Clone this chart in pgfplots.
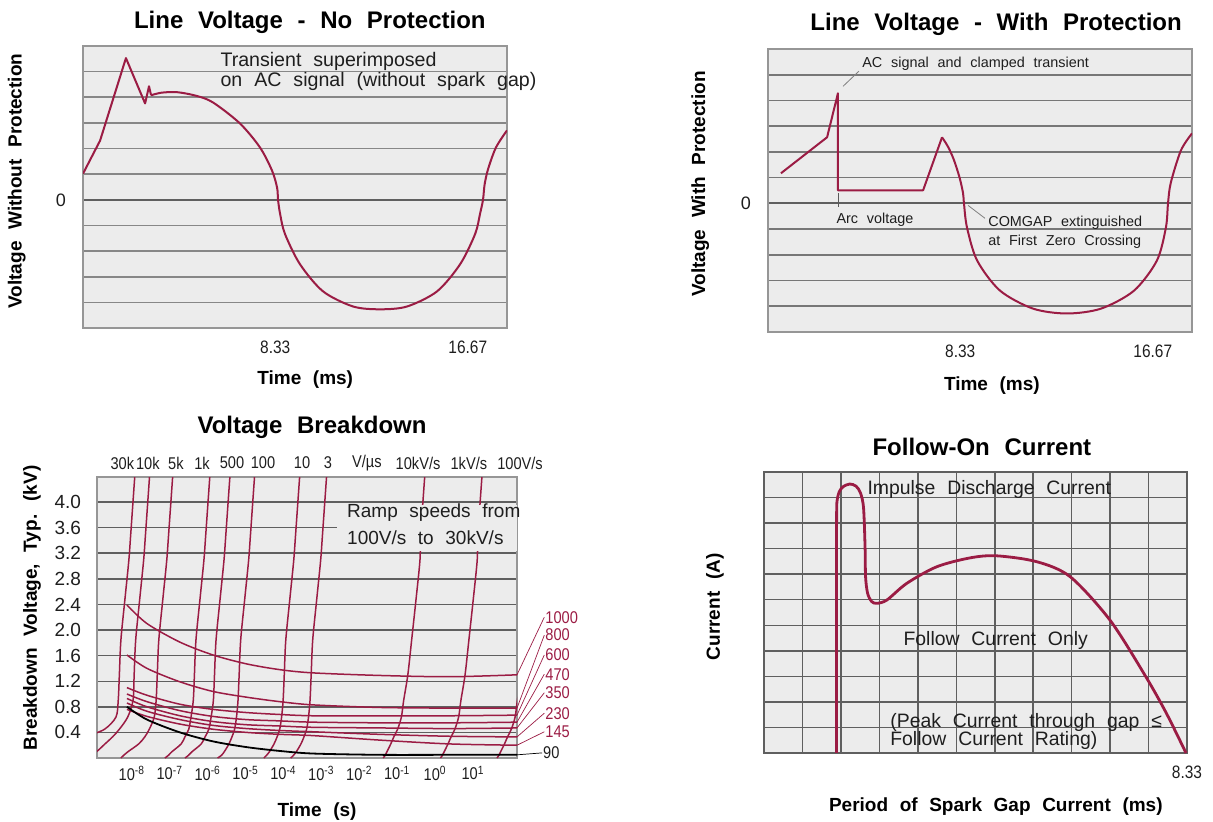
\documentclass[border=0pt]{standalone}
\usepackage{fontspec}
\setmainfont[WordSpace=2.2]{Liberation Sans}
\newfontfamily\narrow[FakeStretch=0.86]{Liberation Sans}
\usepackage{pgfplots}
\usepackage{pgfplotstable}
\pgfplotsset{compat=1.18}

\definecolor{curve}{RGB}{155,28,68}
\definecolor{bgc}{RGB}{236,236,236}
\definecolor{gridc}{RGB}{95,95,95}
\definecolor{gridl}{RGB}{135,135,135}
\definecolor{boxc}{RGB}{150,150,150}
\definecolor{txt}{RGB}{30,30,30}

% ramp-speed curves: x = log10(t/s) for each breakdown voltage V (kV)
\pgfplotstableread{
V    a30k  a10k  a5k   a1k   a500  a100  a10   a3    a10kV a1kV  a100V
4.6  -7.90 -7.51 -6.90 -5.92 -5.39 -4.74 -3.55 -2.84 -0.25  1.26 2.75
3.5  -8.03 -7.64 -7.03 -6.05 -5.52 -4.87 -3.68 -2.97 -0.38  1.13 2.62
3.09 -8.08 -7.69 -7.08 -6.10 -5.57 -4.92 -3.73 -3.02 -0.40  1.11 2.60
2.5  -8.18 -7.79 -7.18 -6.20 -5.67 -5.02 -3.83 -3.12 -0.50  1.01 2.50
1.84 -8.29 -7.90 -7.29 -6.31 -5.78 -5.13 -3.94 -3.23 -0.62  0.89 2.38
1.3  -8.33 -7.94 -7.33 -6.35 -5.82 -5.17 -3.98 -3.27 -0.72  0.79 2.28
0.9  -8.36 -7.97 -7.36 -6.38 -5.85 -5.20 -4.01 -3.30 -0.83  0.68 2.17
0.64 -8.42 -8.11 -7.41 -6.44 -5.91 -5.24 -4.05 -3.34 -0.89  0.62 2.11
0.45 -8.72 -8.33 -7.54 -6.50 -5.97 -5.29 -4.10 -3.39 -0.99  0.52 2.01
0.33 -9.20 -8.51 -7.66 -6.60 -6.07 -5.36 -4.17 -3.46 -1.09  0.42 1.91
0.22 -9.40 -8.71 -7.82 -6.70 -6.17 -5.44 -4.25 -3.54 -1.17  0.34 1.83
0.1  -9.60 -8.93 -8.10 -6.94 -6.41 -5.56 -4.37 -3.66 -1.27  0.24 1.73
0.04 -9.70 -9.10 -8.22 -7.04 -6.51 -5.64 -4.45 -3.74 -1.32  0.19 1.68
0.0  -9.80 -9.20 -8.29 -7.13 -6.60 -5.74 -4.52 -3.81 -1.37  0.14 1.63
}\ramps

% DC sparkover curves (V), x = log10(t/s)
\pgfplotstableread{
x     d1000 d800 d600 d470 d350 d230 d145 d90
-8.13 2.39  1.61 1.10 1.00 0.93 0.86 0.76 0.80
-7.60 2.10  1.40 0.98 0.88 0.80 0.73 0.65 0.60
-6.73 1.81  1.19 0.84 0.74 0.66 0.60 0.53 0.40
-5.86 1.61  1.04 0.76 0.65 0.57 0.51 0.45 0.26
-4.97 1.47  0.95 0.71 0.60 0.52 0.46 0.40 0.17
-4.09 1.38  0.88 0.68 0.58 0.50 0.43 0.37 0.11
-3.22 1.33  0.83 0.66 0.56 0.48 0.41 0.35 0.07
-1.46 1.29  0.79 0.66 0.55 0.47 0.37 0.28 0.05
0.39  1.27  0.78 0.66 0.55 0.46 0.34 0.22 0.05
2.16  1.30  0.78 0.67 0.56 0.47 0.33 0.20 0.05
}\dc

\pgfplotsset{
  panel/.style={
    scale only axis,
    axis background/.style={fill=bgc},
    axis line style={draw=boxc, line width=0.7pt},
    major tick length=0pt, minor tick length=0pt,
    tick style={draw=none},
    ticklabel style={font=\fontsize{9}{10}\selectfont, text=txt},
    title style={font=\fontsize{12}{14}\selectfont\bfseries, yshift=-6pt},
    label style={font=\fontsize{9.5}{11}\selectfont\bfseries},
    clip mode=individual,
  },
  wave/.style={curve, line width=1pt, line join=round},
  ramp/.style={curve, line width=0.75pt, smooth},
}
\tikzset{
  note/.style={text=txt, inner sep=0pt},
  top/.style={text=txt, inner sep=0pt, font=\narrow\fontsize{8.5}{10}\selectfont},
  side/.style={text=curve, inner sep=0pt, anchor=west, font=\narrow\fontsize{8.5}{10}\selectfont},
  lead/.style={draw=curve, line width=0.35pt},
}

\begin{document}
\begin{tikzpicture}
\useasboundingbox (0,0) rectangle (606.5pt,-410.5pt);

% ---------- Line Voltage - No Protection ----------
\begin{axis}[panel, at={(41.5pt,-164pt)}, anchor=south west,
  width=212pt, height=141pt,
  xmin=0, xmax=18.37, ymin=-5, ymax=6,
  xtick={8.33,16.67}, xticklabels={8.33,16.67},
  xticklabel style={font=\narrow\fontsize{9}{10}\selectfont, yshift=-3pt},
  ytick={0}, yticklabels={0}, yticklabel style={xshift=-5pt},
  minor ytick={-4,-3,-2,-1,1,2,3,4,5},
  ymajorgrids, yminorgrids,
  major grid style={draw=gridc, line width=0.9pt},
  minor grid style={draw=gridl, line width=0.8pt},
  title={Line Voltage - No Protection},
  xlabel={Time (ms)}, ylabel={Voltage Without Protection},
  title style={at={(axis description cs:0.535,1.085)}, anchor=center},
  xlabel style={at={(axis description cs:0.524,-0.184)}, anchor=center},
  ylabel style={at={(axis description cs:-0.156,0.521)}, anchor=center},
]
\addplot[wave] coordinates {(0,1.02) (0.74,2.31) (1.86,5.53) (2.69,3.76) (2.86,4.43) (2.95,4.08)};
\addplot[wave, smooth] coordinates {
  (2.95,4.08) (3.4,4.18) (4.07,4.20) (4.9,4.06) (5.63,3.80) (6.80,2.98)
  (7.67,2.04) (8.19,1.14) (8.41,0.47) (8.45,0) (8.54,-0.55) (8.75,-1.33)
  (9.40,-2.51) (10.40,-3.57) (11.70,-4.16) (12.87,-4.27) (14.04,-4.16)
  (15.34,-3.57) (16.34,-2.51) (16.99,-1.33) (17.20,-0.55) (17.33,0)
  (17.40,0.60) (17.55,1.20) (17.89,2.04) (18.37,2.71)};
\node[note, anchor=west, font=\fontsize{9.8}{11}\selectfont] at (axis cs:5.94,5.41) {Transient superimposed};
\node[note, anchor=west, font=\fontsize{9.8}{11}\selectfont] at (axis cs:5.94,4.63) {on AC signal (without spark gap)};
\end{axis}

% ---------- Line Voltage - With Protection ----------
\begin{axis}[panel, at={(384pt,-166pt)}, anchor=south west,
  width=212pt, height=141.5pt,
  xmin=0, xmax=18.37, ymin=-5, ymax=6,
  xtick={8.33,16.67}, xticklabels={8.33,16.67},
  xticklabel style={font=\narrow\fontsize{9}{10}\selectfont, yshift=-3pt},
  ytick={0}, yticklabels={0}, yticklabel style={xshift=-5pt},
  minor ytick={-4,-3,-2,-1,1,2,3,4,5},
  ymajorgrids, yminorgrids,
  major grid style={draw=gridc, line width=0.9pt},
  minor grid style={draw=gridc!85, line width=0.8pt},
  title={Line Voltage - With Protection},
  xlabel={Time (ms)}, ylabel={Voltage With Protection},
  title style={at={(axis description cs:0.538,1.088)}, anchor=center},
  xlabel style={at={(axis description cs:0.528,-0.191)}, anchor=center},
  ylabel style={at={(axis description cs:-0.160,0.523)}, anchor=center},
]
\addplot[wave] coordinates {(0.56,1.17) (2.56,2.57) (3.03,4.28) (3.03,0.51) (6.72,0.51) (7.54,2.57)};
\addplot[wave, smooth] coordinates {
  (7.54,2.57) (7.80,2.20) (8.05,1.70) (8.30,1.00) (8.45,0.40) (8.49,0)
  (8.62,-0.93) (9.06,-2.22) (10.05,-3.39) (11.48,-4.09) (12.95,-4.28)
  (14.43,-4.09) (15.86,-3.39) (16.85,-2.22) (17.24,-0.93) (17.33,0)
  (17.45,0.80) (17.89,2.06) (18.37,2.72)};
\draw[gray, line width=0.4pt] (axis cs:3.25,4.55) -- (axis cs:3.94,5.14);
\node[note, anchor=west, font=\fontsize{7.2}{8}\selectfont] at (axis cs:4.07,5.41) {AC signal and clamped transient};
\draw[gray!70!black, line width=0.4pt] (axis cs:3.03,0.39) -- (axis cs:3.03,-0.16);
\node[note, anchor=west, font=\fontsize{7.2}{8}\selectfont] at (axis cs:2.95,-0.62) {Arc voltage};
\draw[gray, line width=0.4pt] (axis cs:8.67,-0.08) -- (axis cs:9.40,-0.58);
\node[note, anchor=west, font=\fontsize{7.2}{8}\selectfont] at (axis cs:9.53,-0.74) {COMGAP extinguished};
\node[note, anchor=west, font=\fontsize{7.2}{8}\selectfont] at (axis cs:9.53,-1.48) {at First Zero Crossing};
\end{axis}

% ---------- Voltage Breakdown ----------
\begin{axis}[panel, at={(48.5pt,-379pt)}, anchor=south west,
  width=210pt, height=140.5pt,
  xmin=-8.92, xmax=2.16, ymin=0, ymax=4.39,
  xtick={-8,-7,-6,-5,-4,-3,-2,-1,0,1},
  xticklabels={10\textsuperscript{-8},10\textsuperscript{-7},10\textsuperscript{-6},10\textsuperscript{-5},10\textsuperscript{-4},10\textsuperscript{-3},10\textsuperscript{-2},10\textsuperscript{-1},10\textsuperscript{0},10\textsuperscript{1}},
  xticklabel style={font=\narrow\fontsize{8.5}{10}\selectfont, yshift=-0.5pt},
  ytick={0.4,0.8,1.2,1.6,2.0,2.4,2.8,3.2,3.6,4.0},
  yticklabels={0.4,0.8,1.2,1.6,2.0,2.4,2.8,3.2,3.6,4.0},
  yticklabel style={font=\fontsize{9.5}{10}\selectfont, xshift=-4.5pt},
  ymajorgrids,
  major grid style={draw=gridc, line width=0.7pt},
  title={Voltage Breakdown},
  xlabel={Time (s)}, ylabel={Breakdown Voltage, Typ. (kV)},
  title style={at={(axis description cs:0.512,1.178)}, anchor=center},
  xlabel style={at={(axis description cs:0.524,-0.192)}, anchor=center},
  ylabel style={at={(axis description cs:-0.155,0.534)}, anchor=center},
]
\addplot[ramp] table[x=a30k, y=V] {\ramps};
\addplot[ramp] table[x=a10k, y=V] {\ramps};
\addplot[ramp] table[x=a5k, y=V] {\ramps};
\addplot[ramp] table[x=a1k, y=V] {\ramps};
\addplot[ramp] table[x=a500, y=V] {\ramps};
\addplot[ramp] table[x=a100, y=V] {\ramps};
\addplot[ramp] table[x=a10, y=V] {\ramps};
\addplot[ramp] table[x=a3, y=V] {\ramps};
\addplot[ramp] table[x=a10kV, y=V] {\ramps};
\addplot[ramp] table[x=a1kV, y=V] {\ramps};
\addplot[ramp] table[x=a100V, y=V] {\ramps};
\addplot[ramp] table[x=x, y=d1000] {\dc};
\addplot[ramp] table[x=x, y=d800] {\dc};
\addplot[ramp] table[x=x, y=d600] {\dc};
\addplot[ramp] table[x=x, y=d470] {\dc};
\addplot[ramp] table[x=x, y=d350] {\dc};
\addplot[ramp] table[x=x, y=d230] {\dc};
\addplot[ramp] table[x=x, y=d145] {\dc};
\addplot[black, line width=0.9pt, smooth] table[x=x, y=d90] {\dc};
\fill[bgc] (axis cs:-2.59,3.23) rectangle (axis cs:2.16,3.95);
\node[note, anchor=west, font=\fontsize{9.5}{11}\selectfont] at (axis cs:-2.33,3.84) {Ramp speeds from};
\node[note, anchor=west, font=\fontsize{9.5}{11}\selectfont] at (axis cs:-2.33,3.44) {100V/s to 30kV/s};
\node[top] at (axis cs:-8.25,4.61) {30k};
\node[top] at (axis cs:-7.58,4.61) {10k};
\node[top] at (axis cs:-6.84,4.61) {5k};
\node[top] at (axis cs:-6.15,4.61) {1k};
\node[top] at (axis cs:-5.36,4.61) {500};
\node[top] at (axis cs:-4.54,4.61) {100};
\node[top] at (axis cs:-3.51,4.61) {10};
\node[top] at (axis cs:-2.83,4.61) {3};
\node[top] at (axis cs:-1.80,4.61) {V/µs};
\node[top] at (axis cs:-0.45,4.61) {10kV/s};
\node[top] at (axis cs:0.89,4.61) {1kV/s};
\node[top] at (axis cs:2.24,4.61) {100V/s};
\draw[lead] (axis cs:2.16,1.30) -- (axis cs:2.88,2.20);
\draw[lead] (axis cs:2.16,0.78) -- (axis cs:2.88,1.92);
\draw[lead] (axis cs:2.16,0.67) -- (axis cs:2.88,1.61);
\draw[lead] (axis cs:2.16,0.56) -- (axis cs:2.88,1.31);
\draw[lead] (axis cs:2.16,0.47) -- (axis cs:2.88,1.02);
\draw[lead] (axis cs:2.16,0.33) -- (axis cs:2.88,0.70);
\draw[lead] (axis cs:2.16,0.20) -- (axis cs:2.88,0.41);
\draw[black, line width=0.35pt] (axis cs:2.16,0.05) -- (axis cs:2.82,0.08);
\node[side] at (axis cs:2.90,2.20) {1000};
\node[side] at (axis cs:2.90,1.92) {800};
\node[side] at (axis cs:2.90,1.61) {600};
\node[side] at (axis cs:2.90,1.31) {470};
\node[side] at (axis cs:2.90,1.02) {350};
\node[side] at (axis cs:2.90,0.70) {230};
\node[side] at (axis cs:2.90,0.41) {145};
\node[side, text=txt] at (axis cs:2.84,0.08) {90};
\end{axis}

% ---------- Follow-On Current ----------
\begin{axis}[panel, at={(382pt,-376.5pt)}, anchor=south west,
  width=211.5pt, height=140.5pt,
  xmin=0, xmax=8.33, ymin=0, ymax=11,
  xtick={8.33}, xticklabels={8.33},
  xticklabel style={font=\narrow\fontsize{9}{10}\selectfont, yshift=-3pt},
  minor xtick={0.757,1.515,2.272,3.029,3.786,4.544,5.301,6.058,6.815,7.573},
  ytick={1,2,3,4,5,6,7,8,9,10}, yticklabels={},
  grid=both,
  major grid style={draw=gridc, line width=0.75pt},
  minor grid style={draw=gridc, line width=0.75pt},
  axis line style={draw=gridc, line width=0.8pt},
  title={Follow-On Current},
  xlabel={Period of Spark Gap Current (ms)}, ylabel={Current (A)},
  title style={at={(axis description cs:0.515,1.089)}, anchor=center},
  xlabel style={at={(axis description cs:0.548,-0.192)}, anchor=center},
  ylabel style={at={(axis description cs:-0.116,0.520)}, anchor=center},
]
\addplot[curve, line width=1.4pt] coordinates {(1.43,0) (1.43,9.0)};
\addplot[curve, line width=1.4pt, smooth] coordinates {
  (1.43,9.0) (1.435,9.8) (1.48,10.22) (1.56,10.43) (1.69,10.53) (1.81,10.45)
  (1.90,10.18) (1.96,9.6) (1.99,8.07) (2.00,6.90) (2.04,6.25) (2.12,5.93)
  (2.22,5.86) (2.42,5.99) (2.81,6.64) (3.40,7.29) (4.06,7.64) (4.58,7.72)
  (5.37,7.49) (6.03,6.90) (6.81,5.21) (7.50,3.05) (7.92,1.57) (8.31,0)};
\node[note, anchor=west, font=\fontsize{9.7}{11}\selectfont] at (axis cs:2.03,10.33) {Impulse Discharge Current};
\node[note, anchor=west, font=\fontsize{9.7}{11}\selectfont] at (axis cs:2.74,4.42) {Follow Current Only};
\node[note, anchor=west, font=\fontsize{9.7}{11}\selectfont] at (axis cs:2.48,1.21) {(Peak Current through gap ≤};
\node[note, anchor=west, font=\fontsize{9.7}{11}\selectfont] at (axis cs:2.48,0.51) {Follow Current Rating)};
\end{axis}
\end{tikzpicture}
\end{document}
